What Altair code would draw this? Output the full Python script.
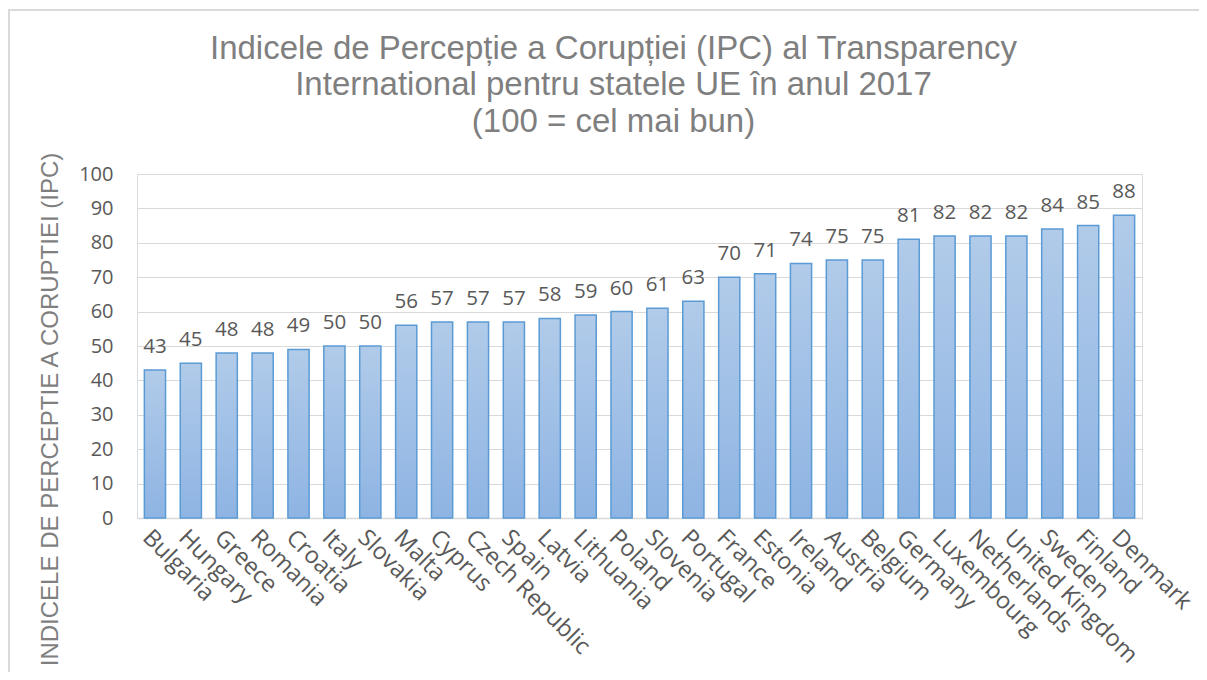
import altair as alt
import pandas as pd

countries = ["Bulgaria", "Hungary", "Greece", "Romania", "Croatia", "Italy", "Slovakia",
             "Malta", "Cyprus", "Czech Republic", "Spain", "Latvia", "Lithuania", "Poland",
             "Slovenia", "Portugal", "France", "Estonia", "Ireland", "Austria", "Belgium",
             "Germany", "Luxembourg", "Netherlands", "United Kingdom", "Sweden", "Finland",
             "Denmark"]
values = [43, 45, 48, 48, 49, 50, 50, 56, 57, 57, 57, 58, 59, 60, 61, 63, 70, 71, 74, 75,
          75, 81, 82, 82, 82, 84, 85, 88]
y_ticks = [0, 10, 20, 30, 40, 50, 60, 70, 80, 90, 100]

title_lines = ["Indicele de Percepție a Corupției (IPC) al Transparency",
               "International pentru statele UE în anul 2017",
               "(100 = cel mai bun)"]
y_title = "INDICELE DE PERCEPTIE A CORUPTIEI (IPC)"

df = pd.DataFrame({"country": countries, "ipc": values})

LABEL_FONT = "Open Sans"
TXT = "#595959"

x_enc = alt.X("country:N", sort=countries,
              scale=alt.Scale(paddingInner=0.41, paddingOuter=0.205),
              axis=alt.Axis(title=None, labelAngle=45, labelAlign="left",
                            labelBaseline="top", labelPadding=7, labelFont=LABEL_FONT,
                            labelFontSize=23.5, labelColor=TXT, labelOverlap=False,
                            labelLimit=400, ticks=False, domainColor="#d9d9d9",
                            domainWidth=1.5))
y_enc = alt.Y("ipc:Q", scale=alt.Scale(domain=[0, 100], nice=False),
              axis=alt.Axis(values=y_ticks, title=y_title, titleFont="Liberation Sans",
                            titleFontSize=24, titleFontWeight="normal", titleColor="#7f7f7f",
                            titleAngle=-90, titleAlign="center", titleBaseline="alphabetic",
                            titleX=-80, titleY=235, labelFont=LABEL_FONT, labelFontSize=20,
                            labelColor=TXT, labelPadding=24, labelOverlap=False,
                            ticks=False, domain=False,
                            grid=True, gridColor="#d9d9d9", gridWidth=1.2))

bars = alt.Chart(df).mark_bar(
    color=alt.Gradient(gradient="linear", x1=0, y1=0, x2=0, y2=1,
                       stops=[alt.GradientStop(color="#b1cbe9", offset=0),
                              alt.GradientStop(color="#8eb4e3", offset=1)]),
    stroke="#5b9bd5", strokeWidth=1.5
).encode(x=x_enc, y=y_enc)

labels = alt.Chart(df).mark_text(
    baseline="alphabetic", dy=-17, font=LABEL_FONT, fontSize=20.5, color=TXT
).encode(x=x_enc, y=y_enc, text=alt.Text("ipc:Q"))

frame = alt.Chart(df.head(1)).mark_rect(
    fill=None, stroke="#d9d9d9", strokeWidth=2, clip=False
).encode(x=alt.value(-128), x2=alt.value(1200), y=alt.value(-164), y2=alt.value(700))

chart = alt.layer(frame, bars, labels).properties(
    width=1005, height=344,
    title=alt.TitleParams(text=title_lines, font="Liberation Sans", fontSize=33,
                          fontWeight="normal", color="#7f7f7f", lineHeight=36.7,
                          anchor="middle", dx=-26, offset=-163, baseline="bottom"),
    autosize=alt.AutoSizeParams(type="none"),
    padding={"left": 129, "top": 166, "right": 57, "bottom": 154},
).configure_view(stroke=None).configure(background="white")

chart.save("out.html", embed_options={"renderer": "svg", "actions": False})
